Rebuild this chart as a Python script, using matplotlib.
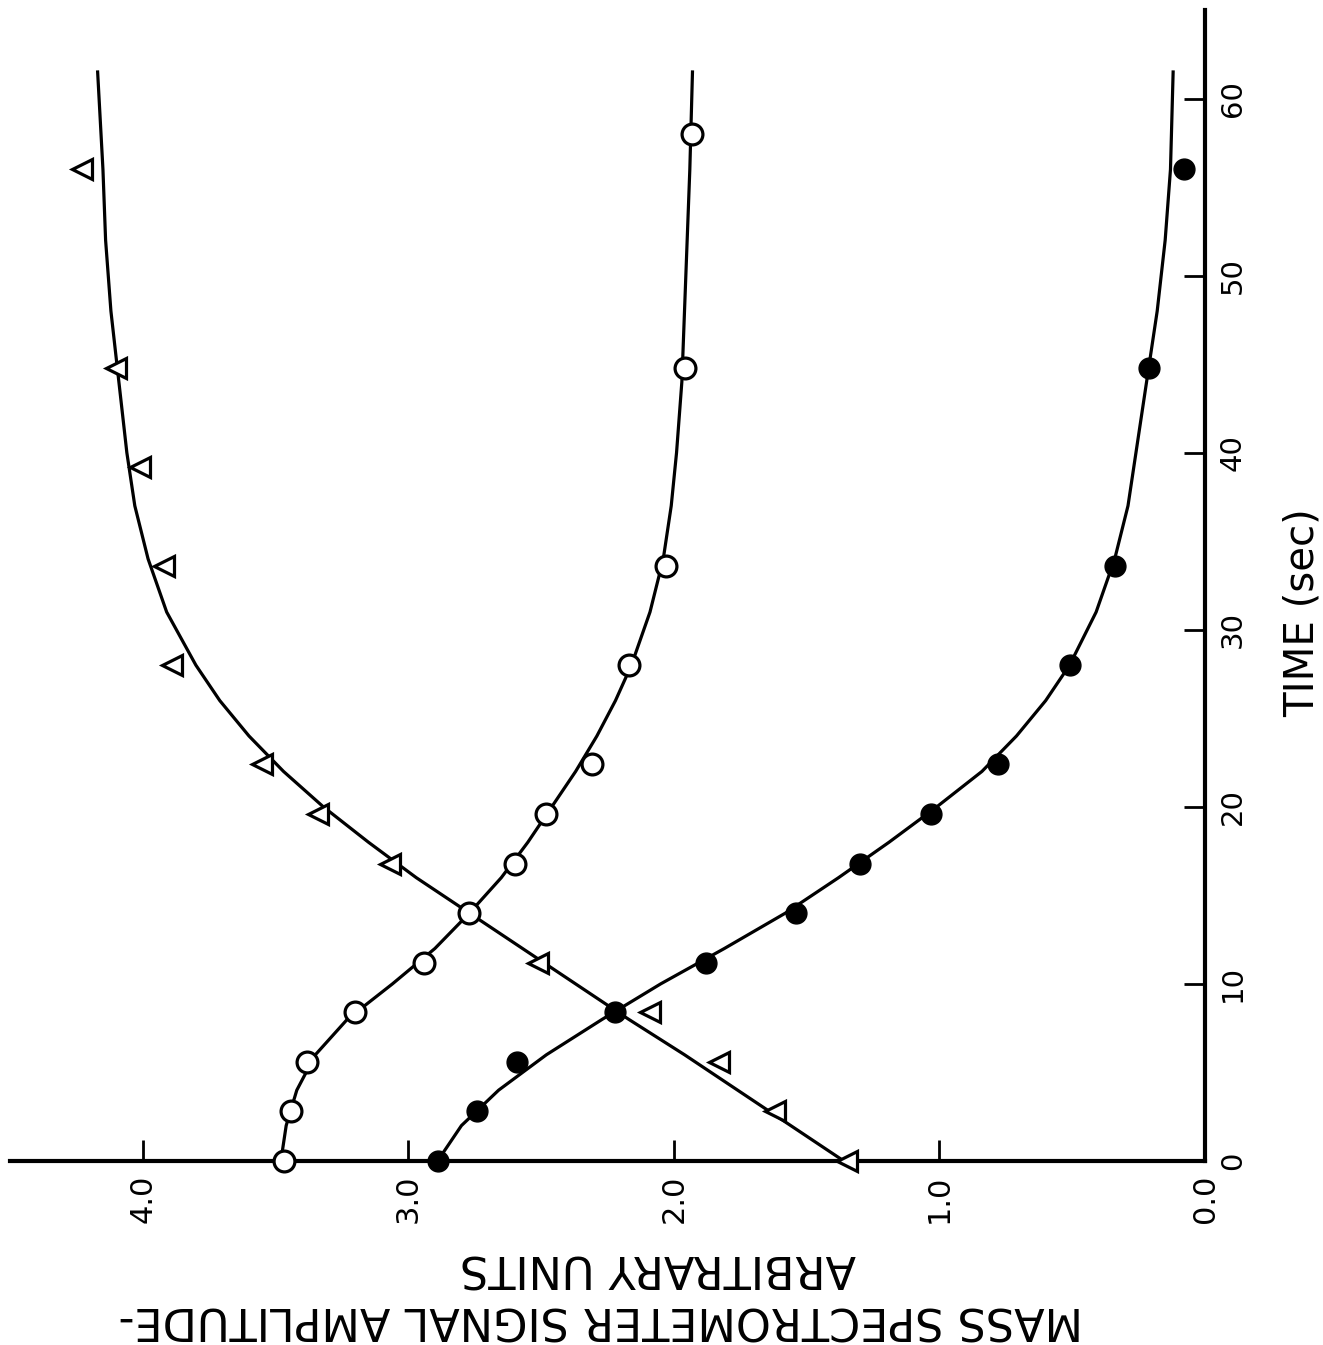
import matplotlib
matplotlib.use("Agg")
import matplotlib.pyplot as plt

# smooth fitted curves
t_curve = [0, 2, 4, 6, 8, 10, 12, 14, 16, 18, 20, 22, 24, 26, 28, 31, 34, 37, 40, 44, 48, 52, 56, 61.5]
open_curve = [3.48, 3.46, 3.42, 3.35, 3.23, 3.06, 2.90, 2.77, 2.65, 2.55, 2.46, 2.37, 2.29, 2.22,
              2.16, 2.09, 2.04, 2.01, 1.99, 1.97, 1.96, 1.95, 1.94, 1.93]
filled_curve = [2.89, 2.80, 2.66, 2.48, 2.27, 2.05, 1.81, 1.58, 1.38, 1.19, 1.01, 0.84, 0.71, 0.60,
                0.51, 0.41, 0.34, 0.29, 0.26, 0.22, 0.18, 0.15, 0.13, 0.12]
tri_curve = [1.36, 1.56, 1.76, 1.96, 2.17, 2.37, 2.57, 2.77, 2.97, 3.15, 3.32, 3.47, 3.60, 3.71,
             3.80, 3.91, 3.98, 4.03, 4.06, 4.09, 4.12, 4.14, 4.15, 4.17]

# measured points
t_open = [0, 2.8, 5.6, 8.4, 11.2, 14.0, 16.8, 19.6, 22.4, 28.0, 33.6, 44.8, 58.0]
open_pts = [3.47, 3.44, 3.38, 3.20, 2.94, 2.77, 2.60, 2.48, 2.31, 2.17, 2.03, 1.96, 1.93]
t_filled = [0, 2.8, 5.6, 8.4, 11.2, 14.0, 16.8, 19.6, 22.4, 28.0, 33.6, 44.8, 56.0]
filled_pts = [2.89, 2.74, 2.59, 2.22, 1.88, 1.54, 1.30, 1.03, 0.78, 0.51, 0.34, 0.21, 0.08]
t_tri = [0, 2.8, 5.6, 8.4, 11.2, 16.8, 19.6, 22.4, 28.0, 33.6, 39.2, 44.8, 56.0]
tri_pts = [1.35, 1.62, 1.83, 2.09, 2.51, 3.07, 3.34, 3.55, 3.89, 3.92, 4.01, 4.10, 4.23]

amp_ticks = [4.0, 3.0, 2.0, 1.0, 0.0]
amp_labels = ["4.0", "3.0", "2.0", "1.0", "0.0"]
time_ticks = [0, 10, 20, 30, 40, 50, 60]
time_labels = ["0", "10", "20", "30", "40", "50", "60"]

W, H = 1323, 1345
fig = plt.figure(figsize=(W / 100, H / 100), dpi=100)
ax = fig.add_axes([10 / W, (H - 1161) / H, (1205 - 10) / W, (1161 - 10) / H])

# figure is drawn turned on its side: amplitude runs right-to-left, time runs upward
lw = 2.3
ax.plot(open_curve, t_curve, color="black", lw=lw, zorder=2)
ax.plot(filled_curve, t_curve, color="black", lw=lw, zorder=2)
ax.plot(tri_curve, t_curve, color="black", lw=lw, zorder=2)

ax.plot(open_pts, t_open, "o", ms=15, mfc="white", mec="black", mew=2.3, zorder=4, clip_on=False)
ax.plot(filled_pts, t_filled, "o", ms=15, mfc="black", mec="black", zorder=4, clip_on=False)
ax.plot(tri_pts, t_tri, "<", ms=14, mfc="white", mec="black", mew=2.3, zorder=3, clip_on=False)

ax.set_xlim(4.5, 0)
ax.set_ylim(0, 65)

for s in ["top", "left"]:
    ax.spines[s].set_visible(False)
for s in ["bottom", "right"]:
    ax.spines[s].set_linewidth(3)

ax.yaxis.tick_right()
ax.set_xticks(amp_ticks)
ax.set_xticklabels(amp_labels, rotation=90, fontsize=22)
ax.set_yticks(time_ticks)
ax.set_yticklabels(time_labels, rotation=90, fontsize=21, va="center")
ax.tick_params(axis="both", direction="in", length=15, width=2, pad=10)
ax.tick_params(axis="x", pad=10)

fig.text(601 / W, 1 - 1319 / H, "MASS SPECTROMETER SIGNAL AMPLITUDE-", rotation=180,
         ha="center", va="center", fontsize=32)
fig.text(658 / W, 1 - 1267 / H, "ARBITRARY UNITS", rotation=180,
         ha="center", va="center", fontsize=32)
fig.text(1303 / W, 1 - 613 / H, "TIME (sec)", rotation=90,
         ha="center", va="center", fontsize=29)

fig.savefig("out.png", dpi=100, facecolor="white")
